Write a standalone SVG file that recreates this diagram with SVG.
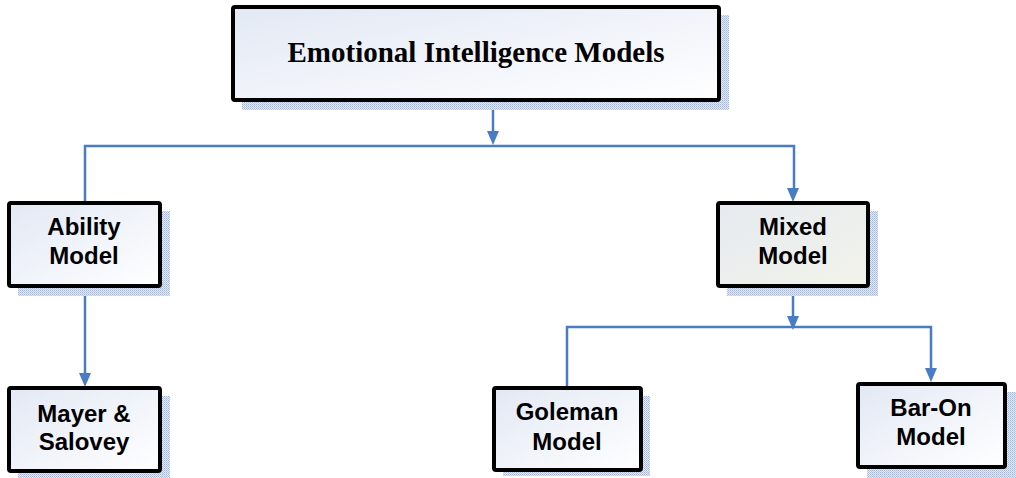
<svg xmlns="http://www.w3.org/2000/svg" width="1016" height="478" viewBox="0 0 1016 478">
<style>
.box{stroke:#000;stroke-width:4;fill:url(#g)}
.mixed{fill:url(#gm)}
.sh{fill:url(#dots)}
.conn{stroke:#4a7cc4;stroke-width:2.5;fill:none}
.ah{fill:#4a7cc4}
.t{font-family:"Liberation Sans",Arial,sans-serif;font-size:24px;font-weight:bold;fill:#000;text-anchor:middle}
.title{font-family:"Liberation Serif","Times New Roman",serif;font-size:29px;font-weight:bold;fill:#000;text-anchor:middle}
</style>
<defs>
<linearGradient id="g" x1="0" y1="0" x2="1" y2="1">
<stop offset="0" stop-color="#e2e8f4"/>
<stop offset="1" stop-color="#ffffff"/>
</linearGradient>
<linearGradient id="gm" x1="0" y1="0" x2="1" y2="1">
<stop offset="0" stop-color="#e6eaf0"/>
<stop offset="1" stop-color="#f2f3ea"/>
</linearGradient>
<pattern id="dots" width="2" height="2" patternUnits="userSpaceOnUse">
<rect width="2" height="2" fill="#e4eaf6"/>
<rect width="1" height="1" fill="#9fb5df"/>
<rect x="1" y="1" width="1" height="1" fill="#b8c8e8"/>
</pattern>
</defs>
<g id="connectors">
<path class="conn" d="M493,100 V133"/>
<path class="ah" d="M487,131 L499,131 L493,145 Z"/>
<path class="conn" d="M85,202 V146 H794 V190"/>
<path class="ah" d="M787,188 L799,188 L793,202 Z"/>
<path class="conn" d="M85,286 V375"/>
<path class="ah" d="M79,373 L91,373 L85,387 Z"/>
<path class="conn" d="M793,286 V318"/>
<path class="ah" d="M787,316 L799,316 L793,330 Z"/>
<path class="conn" d="M567,388 V327 H931 V370"/>
<path class="ah" d="M925,368 L937,368 L931,382 Z"/>
</g>
<g id="n-title">
<rect class="sh" x="242" y="15" width="487" height="95"/>
<rect class="box" x="233" y="7" width="486" height="93" rx="2"/>
<text class="title" x="476" y="62">Emotional Intelligence Models</text>
</g>
<g id="n-ability">
<rect class="sh" x="18" y="211" width="152" height="85"/>
<rect class="box" x="9" y="203" width="151" height="83" rx="2"/>
<text class="t" x="84" y="235">Ability</text>
<text class="t" x="84" y="264">Model</text>
</g>
<g id="n-mixed">
<rect class="sh" x="727" y="211" width="151" height="85"/>
<rect class="box mixed" x="718" y="203" width="150" height="83" rx="2"/>
<text class="t" x="793" y="235">Mixed</text>
<text class="t" x="793" y="264">Model</text>
</g>
<g id="n-mayer">
<rect class="sh" x="18" y="396" width="152" height="82"/>
<rect class="box" x="9" y="388" width="151" height="83" rx="2"/>
<text class="t" x="84" y="422">Mayer &amp;</text>
<text class="t" x="84" y="450">Salovey</text>
</g>
<g id="n-goleman">
<rect class="sh" x="503" y="396" width="147" height="80"/>
<rect class="box" x="494" y="388" width="147" height="82" rx="2"/>
<text class="t" x="567" y="420">Goleman</text>
<text class="t" x="567" y="450">Model</text>
</g>
<g id="n-baron">
<rect class="sh" x="867" y="392" width="149" height="86"/>
<rect class="box" x="858" y="384" width="147" height="83" rx="2"/>
<text class="t" x="931" y="416">Bar-On</text>
<text class="t" x="931" y="445">Model</text>
</g>
</svg>
